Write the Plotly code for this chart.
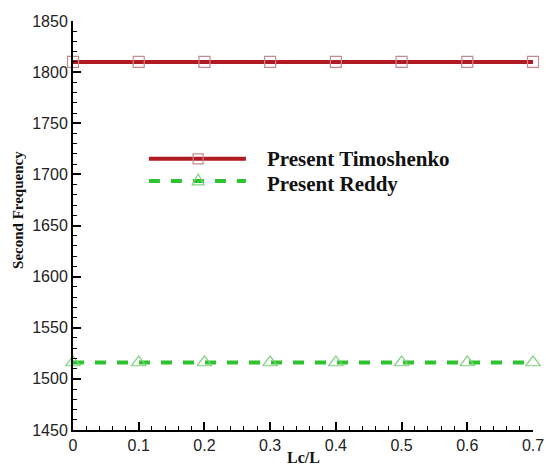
import plotly.graph_objects as go

lc_l = [0, 0.1, 0.2, 0.3, 0.4, 0.5, 0.6, 0.7]
timoshenko = [1810, 1810, 1810, 1810, 1810, 1810, 1810, 1810]
reddy = [1516, 1516, 1516, 1516, 1516, 1516, 1516, 1516]
series_names = ["Present Timoshenko", "Present Reddy"]
y_ticks = [1450, 1500, 1550, 1600, 1650, 1700, 1750, 1800, 1850]
x_ticks = [0, 0.1, 0.2, 0.3, 0.4, 0.5, 0.6, 0.7]

RED = "#b01a22"
RED_MK = "#c58a8a"
GREEN = "#2ec42e"
GREEN_MK = "#7fcf7f"
SERIF = "Liberation Serif"

fig = go.Figure()
fig.add_trace(go.Scatter(x=lc_l, y=timoshenko, mode="lines", line=dict(color=RED, width=4),
                         showlegend=False, hoverinfo="skip"))
fig.add_trace(go.Scatter(x=lc_l, y=timoshenko, mode="markers", name=series_names[0],
                         marker=dict(symbol="square-open", size=11, color=RED_MK, line=dict(width=1.2)),
                         showlegend=False, cliponaxis=False))
fig.add_trace(go.Scatter(x=lc_l, y=reddy, mode="lines", line=dict(color=GREEN, width=4, dash="11px,11px"),
                         showlegend=False, hoverinfo="skip"))
fig.add_trace(go.Scatter(x=lc_l, y=reddy, mode="markers", name=series_names[1],
                         marker=dict(symbol="triangle-up-open", size=13, color=GREEN_MK, line=dict(width=1.2)),
                         showlegend=False, cliponaxis=False))

# custom legend (paper coordinates)
leg_x0, leg_x1, leg_mx, leg_tx = 0.165, 0.376, 0.272, 0.417
leg_y = [0.663, 0.609]
shapes = [
    dict(type="line", xref="paper", yref="paper", x0=leg_x0, x1=leg_x1, y0=leg_y[0], y1=leg_y[0],
         line=dict(color=RED, width=4)),
    dict(type="line", xref="paper", yref="paper", x0=leg_x0, x1=leg_x1, y0=leg_y[1], y1=leg_y[1],
         line=dict(color=GREEN, width=4, dash="11px,11px")),
    dict(type="path", xref="paper", yref="paper", xsizemode="pixel", ysizemode="pixel",
         xanchor=leg_mx, yanchor=leg_y[0], path="M-5,-5 L5,-5 L5,5 L-5,5 Z",
         line=dict(color=RED_MK, width=1.2)),
    dict(type="path", xref="paper", yref="paper", xsizemode="pixel", ysizemode="pixel",
         xanchor=leg_mx, yanchor=leg_y[1], path="M-6,-4 L6,-4 L0,7 Z",
         line=dict(color=GREEN_MK, width=1.2)),
]
annotations = [
    dict(xref="paper", yref="paper", x=leg_tx, y=leg_y[i], yshift=(0 if i == 0 else -3),
         text="<b>" + series_names[i] + "</b>",
         showarrow=False, xanchor="left", yanchor="middle",
         font=dict(family=SERIF, size=21, color="#111111"))
    for i in range(2)
]
# axis titles
annotations.append(dict(xref="paper", yref="paper", x=0.5, y=0, yshift=-27, text="<b>Lc/L</b>",
                        showarrow=False, xanchor="center", yanchor="middle",
                        font=dict(family=SERIF, size=16, color="#111111")))
annotations.append(dict(xref="paper", yref="paper", x=0, y=0.538, xshift=-55, text="<b>Second Frequency</b>",
                        showarrow=False, xanchor="center", yanchor="middle", textangle=-90,
                        font=dict(family=SERIF, size=15, color="#111111")))

fig.update_layout(
    width=546, height=466,
    margin=dict(l=73, r=13, t=21, b=36),
    paper_bgcolor="white", plot_bgcolor="white",
    shapes=shapes, annotations=annotations,
    showlegend=False,
    font=dict(family="Liberation Sans", size=16, color="#222222"),
)
fig.update_xaxes(
    range=[0, 0.7], tickvals=x_ticks, ticktext=[str(v) for v in x_ticks],
    showgrid=False, zeroline=False, showline=True, linecolor="black", linewidth=2,
    ticks="inside", ticklen=8, tickwidth=2, tickcolor="black",
    minor=dict(dtick=0.02, ticks="inside", ticklen=4, tickwidth=1, tickcolor="black", showgrid=False),
    automargin=False,
)
fig.update_yaxes(
    range=[1450, 1850], tickvals=y_ticks,
    showgrid=False, zeroline=False, showline=True, linecolor="black", linewidth=2,
    ticks="inside", ticklen=8, tickwidth=2, tickcolor="black",
    minor=dict(dtick=10, ticks="inside", ticklen=4, tickwidth=1, tickcolor="black", showgrid=False),
    automargin=False,
)

fig.write_html("out.html", config={"displayModeBar": False},
               post_script="document.body.style.margin='0px';document.body.style.overflow='hidden';")
